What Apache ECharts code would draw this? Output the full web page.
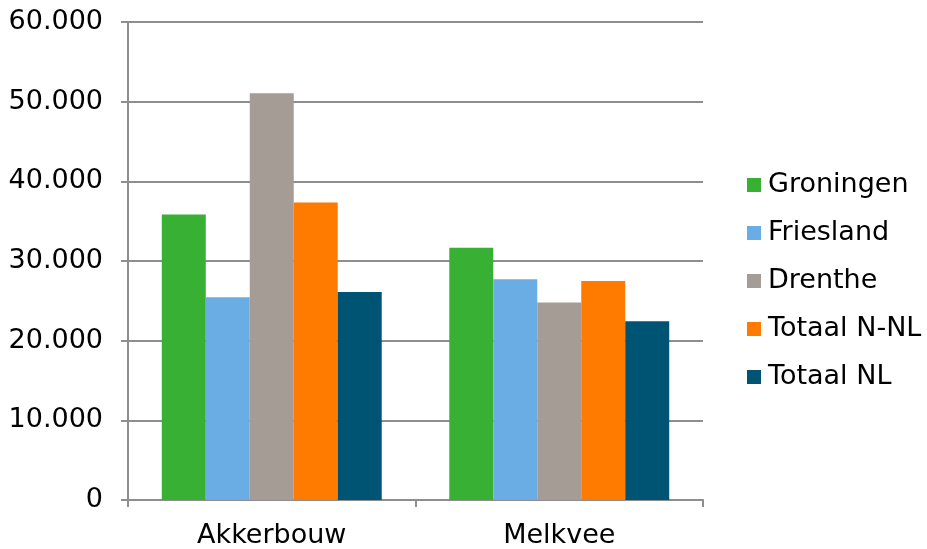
<!DOCTYPE html>
<html>
<head>
<meta charset="utf-8">
<script src="https://cdn.jsdelivr.net/npm/echarts@6/dist/echarts.min.js"></script>
<style>
  html, body { margin: 0; padding: 0; background: #fff; }
  #chart { width: 927px; height: 549px; }
</style>
</head>
<body>
<div id="chart"></div>
<script>
// categorieen en waarden per regio
var categories = ['Akkerbouw', 'Melkvee'];
var seriesNames = ['Groningen', 'Friesland', 'Drenthe', 'Totaal N-NL', 'Totaal NL'];
var groningen = [35850, 31650];
var friesland = [25450, 27700];
var drenthe = [51050, 24800];
var totaalNNL = [37350, 27500];
var totaalNL = [26100, 22450];
var colors = ['#37B034', '#6AADE4', '#A59D95', '#FF7B00', '#005473'];

var chart = echarts.init(document.getElementById('chart'));

var dataList = [groningen, friesland, drenthe, totaalNNL, totaalNL];
var series = [];
for (var i = 0; i < seriesNames.length; i++) {
    series.push({
        name: seriesNames[i],
        type: 'bar',
        data: dataList[i],
        barGap: '0%',
        barCategoryGap: '23.5%',
        itemStyle: { color: colors[i] }
    });
}

function fmt(v) {
    // punt als duizendtal-scheiding
    return String(v).replace(/\B(?=(\d{3})+(?!\d))/g, '.');
}

var option = {
    animation: false,
    color: colors,
    textStyle: { fontFamily: 'DejaVu Sans' },
    grid: { left: 128, right: 224, top: 22, bottom: 49, containLabel: false, outerBoundsMode: 'none' },
    legend: {
        orient: 'vertical',
        left: 747,
        top: 170,
        padding: 0,
        itemWidth: 14,
        itemHeight: 14,
        itemGap: 18,
        icon: 'rect',
        textStyle: { fontSize: 27, color: '#000', fontFamily: 'DejaVu Sans', lineHeight: 30, height: 30, padding: [0, 0, 0, 2] },
        data: seriesNames
    },
    xAxis: {
        type: 'category',
        data: categories,
        axisLine: { lineStyle: { color: '#8E8E8E', width: 2 } },
        axisTick: { show: true, length: 7, alignWithLabel: false, lineStyle: { color: '#8E8E8E', width: 2 } },
        axisLabel: { fontSize: 27, color: '#000', margin: 22, fontFamily: 'DejaVu Sans' }
    },
    yAxis: {
        type: 'value',
        min: 0,
        max: 60000,
        interval: 10000,
        axisLine: { show: true, lineStyle: { color: '#8E8E8E', width: 2 } },
        axisTick: { show: true, length: 7, lineStyle: { color: '#8E8E8E', width: 2 } },
        splitLine: { lineStyle: { color: '#8E8E8E', width: 2 } },
        axisLabel: { fontSize: 27, color: '#000', margin: 25, fontFamily: 'DejaVu Sans', formatter: fmt }
    },
    series: series
};

chart.setOption(option);
</script>
</body>
</html>
